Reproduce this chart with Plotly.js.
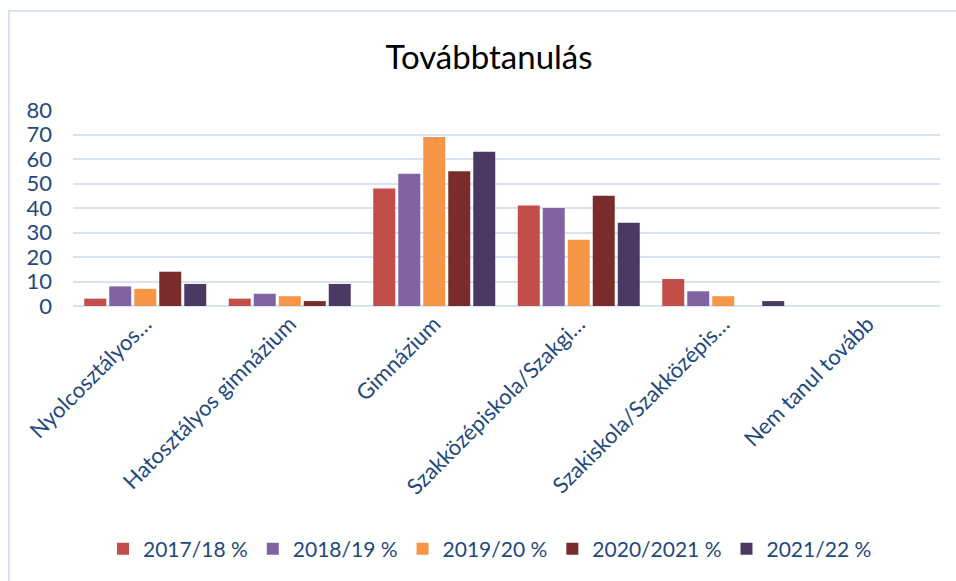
<!DOCTYPE html>
<html>
<head>
<meta charset="utf-8">
<script src="https://cdn.plot.ly/plotly-3.0.1.min.js"></script>
<style>
html,body{margin:0;padding:0;background:#fff;overflow:hidden;}
#chart{width:956px;height:581px;}
</style>
</head>
<body>
<div id="chart"></div>
<script>
const categories = ["Nyolcosztályos…", "Hatosztályos gimnázium", "Gimnázium", "Szakközépiskola/Szakgi…", "Szakiskola/Szakközépis…", "Nem tanul tovább"];
const seriesNames = ["2017/18 %", "2018/19 %", "2019/20 %", "2020/2021 %", "2021/22 %"];
const s2017 = [3, 3, 48, 41, 11, 0];
const s2018 = [8, 5, 54, 40, 6, 0];
const s2019 = [7, 4, 69, 27, 4, 0];
const s2020 = [14, 2, 55, 45, 0, 0];
const s2021 = [9, 9, 63, 34, 2, 0];
const seriesValues = [s2017, s2018, s2019, s2020, s2021];
const colors = ["#C24D49", "#8064A2", "#F79646", "#7A2C2A", "#4A3963"];

const font = "Lato, 'Open Sans', sans-serif";
const textColor = "#1F497D";

const traces = seriesNames.map((name, i) => ({
  type: "bar",
  name: name,
  x: categories,
  y: seriesValues[i],
  marker: {color: colors[i]},
  hoverinfo: "skip"
}));

const L = 73, R = 16, T = 110, B = 275;
const W = 956, H = 581;
const pw = W - L - R, ph = H - T - B;
function px2x(p){ return (p - L) / pw; }
function py2y(p){ return (H - B - p) / ph; }

const layout = {
  width: W, height: H,
  margin: {l: L, r: R, t: T, b: B, pad: 0},
  paper_bgcolor: "#ffffff",
  plot_bgcolor: "#ffffff",
  font: {family: font, color: textColor, size: 20},
  title: {
    text: "Továbbtanulás",
    font: {family: font, size: 33, color: "#000000"},
    x: px2x(489), xref: "paper", xanchor: "center",
    y: 1 - 57 / H, yref: "container", yanchor: "middle"
  },
  barmode: "group",
  bargap: 0.135,
  bargroupgap: 0.12,
  showlegend: true,
  legend: {
    orientation: "h",
    x: px2x(490), xanchor: "center",
    y: py2y(549), yanchor: "middle",
    font: {family: font, size: 21, color: textColor},
    itemwidth: 30,
    traceorder: "normal"
  },
  xaxis: {
    type: "category",
    tickangle: -45,
    showgrid: false,
    showline: false,
    zeroline: false,
    ticks: "",
    tickfont: {family: font, size: 22, color: textColor},
    fixedrange: true
  },
  yaxis: {
    range: [0, 80],
    dtick: 10,
    tick0: 0,
    showgrid: true,
    gridcolor: "#D9E2F3",
    gridwidth: 2,
    zeroline: true,
    zerolinecolor: "#D9E2F3",
    zerolinewidth: 2,
    showline: false,
    ticks: "",
    ticklabelstandoff: 20,
    tickfont: {family: font, size: 22, color: textColor},
    fixedrange: true
  },
  shapes: [{
    type: "rect", xref: "paper", yref: "paper",
    x0: px2x(9), x1: px2x(1000),
    y0: py2y(650), y1: py2y(11),
    line: {color: "#D9E2F3", width: 2},
    fillcolor: "rgba(0,0,0,0)",
    layer: "below"
  }]
};

Plotly.newPlot("chart", traces, layout, {displayModeBar: false, staticPlot: true});
</script>
</body>
</html>
